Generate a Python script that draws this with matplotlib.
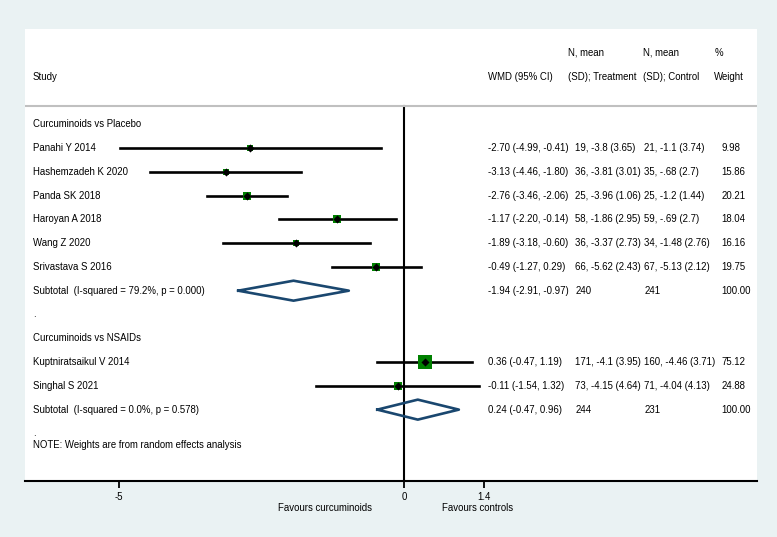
"""
forest plot: curcuminoids vs placebo / NSAIDs (WMD, random effects)
"""
import matplotlib.pyplot as plt

plt.rcParams["font.family"] = ["Liberation Sans", "DejaVu Sans"]

# datos del grafico
estudios = ["Panahi Y 2014", "Hashemzadeh K 2020", "Panda SK 2018", "Haroyan A 2018",
            "Wang Z 2020", "Srivastava S 2016", "Kuptniratsaikul V 2014", "Singhal S 2021"]
wmd = [-2.70, -3.13, -2.76, -1.17, -1.89, -0.49, 0.36, -0.11]
ci_low = [-4.99, -4.46, -3.46, -2.20, -3.18, -1.27, -0.47, -1.54]
ci_high = [-0.41, -1.80, -2.06, -0.14, -0.60, 0.29, 1.19, 1.32]
tratamiento = ["19, -3.8 (3.65)", "36, -3.81 (3.01)", "25, -3.96 (1.06)", "58, -1.86 (2.95)",
               "36, -3.37 (2.73)", "66, -5.62 (2.43)", "171, -4.1 (3.95)", "73, -4.15 (4.64)"]
control = ["21, -1.1 (3.74)", "35, -.68 (2.7)", "25, -1.2 (1.44)", "59, -.69 (2.7)",
           "34, -1.48 (2.76)", "67, -5.13 (2.12)", "160, -4.46 (3.71)", "71, -4.04 (4.13)"]
peso = [9.98, 15.86, 20.21, 18.04, 16.16, 19.75, 75.12, 24.88]

grupos = ["Curcuminoids vs Placebo", "Curcuminoids vs NSAIDs"]
sub_wmd = [-1.94, 0.24]
sub_low = [-2.91, -0.47]
sub_high = [-0.97, 0.96]
sub_n_trat = ["240", "244"]
sub_n_ctrl = ["241", "231"]
sub_i2 = ["Subtotal  (I-squared = 79.2%, p = 0.000)", "Subtotal  (I-squared = 0.0%, p = 0.578)"]

ticks = [-5, 0, 1.4]

# filas de cada elemento
filas_est = [1, 2, 3, 4, 5, 6, 10, 11]
filas_grupo = [0, 9]
filas_sub = [7, 12]

# columnas de texto (en unidades del eje x)
x_study, x_wmd, x_trat, x_ctrl, x_peso = -6.51, 1.47, 3.0, 4.21, 5.56
x_htrat, x_hctrl, x_hpeso = 2.88, 4.19, 5.44

fig = plt.figure(figsize=(7.77, 5.37), dpi=100, facecolor="#eaf2f3")
ax = fig.add_axes([25 / 777, 1 - 481 / 537, 732 / 777, 452 / 537], facecolor="white")
ax.set_xlim(-6.65, 6.19)
ax.set_ylim(15, -4)

fs = 6.9
navy = "#1a476f"

# encabezados
ax.text(x_study, -2, "Study", fontsize=fs, va="center")
ax.text(x_wmd, -2, "WMD (95% CI)", fontsize=fs, va="center")
ax.text(x_htrat, -3, "N, mean", fontsize=fs, va="center")
ax.text(x_htrat, -2, "(SD); Treatment", fontsize=fs, va="center")
ax.text(x_hctrl, -3, "N, mean", fontsize=fs, va="center")
ax.text(x_hctrl, -2, "(SD); Control", fontsize=fs, va="center")
ax.text(x_hpeso, -3, "%", fontsize=fs, va="center")
ax.text(x_hpeso, -2, "Weight", fontsize=fs, va="center")
ax.axhline(-0.76, color="#c0c0c0", lw=1.5)

# linea de no efecto
ax.plot([0, 0], [-0.76, 15], color="black", lw=1.5, zorder=1)

# estudios
for i in range(len(estudios)):
    y = filas_est[i]
    ax.plot([ci_low[i], ci_high[i]], [y, y], color="black", lw=1.9, zorder=2)
    ax.scatter(wmd[i], y, marker="s", s=116 * peso[i] / 75.12, color="#008000", zorder=3, linewidths=0)
    ax.scatter(wmd[i], y, marker="D", s=17, color="black", zorder=4, linewidths=0)
    ax.text(x_study, y, estudios[i], fontsize=fs, va="center")
    ax.text(x_wmd, y, f"{wmd[i]:.2f} ({ci_low[i]:.2f}, {ci_high[i]:.2f})", fontsize=fs, va="center")
    ax.text(x_trat, y, tratamiento[i], fontsize=fs, va="center")
    ax.text(x_ctrl, y, control[i], fontsize=fs, va="center")
    ax.text(x_peso, y, f"{peso[i]:.2f}", fontsize=fs, va="center")

# grupos y subtotales
for g in range(len(grupos)):
    ax.text(x_study, filas_grupo[g], grupos[g], fontsize=fs, va="center")
    y = filas_sub[g]
    ax.plot([sub_low[g], sub_wmd[g], sub_high[g], sub_wmd[g], sub_low[g]],
            [y, y - 0.42, y, y + 0.42, y], color=navy, lw=1.9, zorder=3)
    ax.text(x_study, y, sub_i2[g], fontsize=fs, va="center")
    ax.text(x_wmd, y, f"{sub_wmd[g]:.2f} ({sub_low[g]:.2f}, {sub_high[g]:.2f})", fontsize=fs, va="center")
    ax.text(x_trat, y, sub_n_trat[g], fontsize=fs, va="center")
    ax.text(x_ctrl, y, sub_n_ctrl[g], fontsize=fs, va="center")
    ax.text(x_peso, y, "100.00", fontsize=fs, va="center")
    ax.text(x_study, y + 1, ".", fontsize=fs, va="center")

ax.text(x_study, 13.5, "NOTE: Weights are from random effects analysis", fontsize=fs, va="center")

# eje inferior
for lado in ["left", "right", "top"]:
    ax.spines[lado].set_visible(False)
ax.spines["bottom"].set_linewidth(1.5)
ax.set_yticks([])
ax.set_xticks(ticks)
ax.set_xticklabels(["-5", "0", "1.4"], fontsize=fs)
ax.tick_params(axis="x", length=5, width=1.3, pad=3)
ax.text(-1.39, 16.15, "Favours curcuminoids", fontsize=fs, ha="center", va="center", clip_on=False)
ax.text(1.28, 16.15, "Favours controls", fontsize=fs, ha="center", va="center", clip_on=False)

fig.savefig("out.png", dpi=100, facecolor=fig.get_facecolor())
